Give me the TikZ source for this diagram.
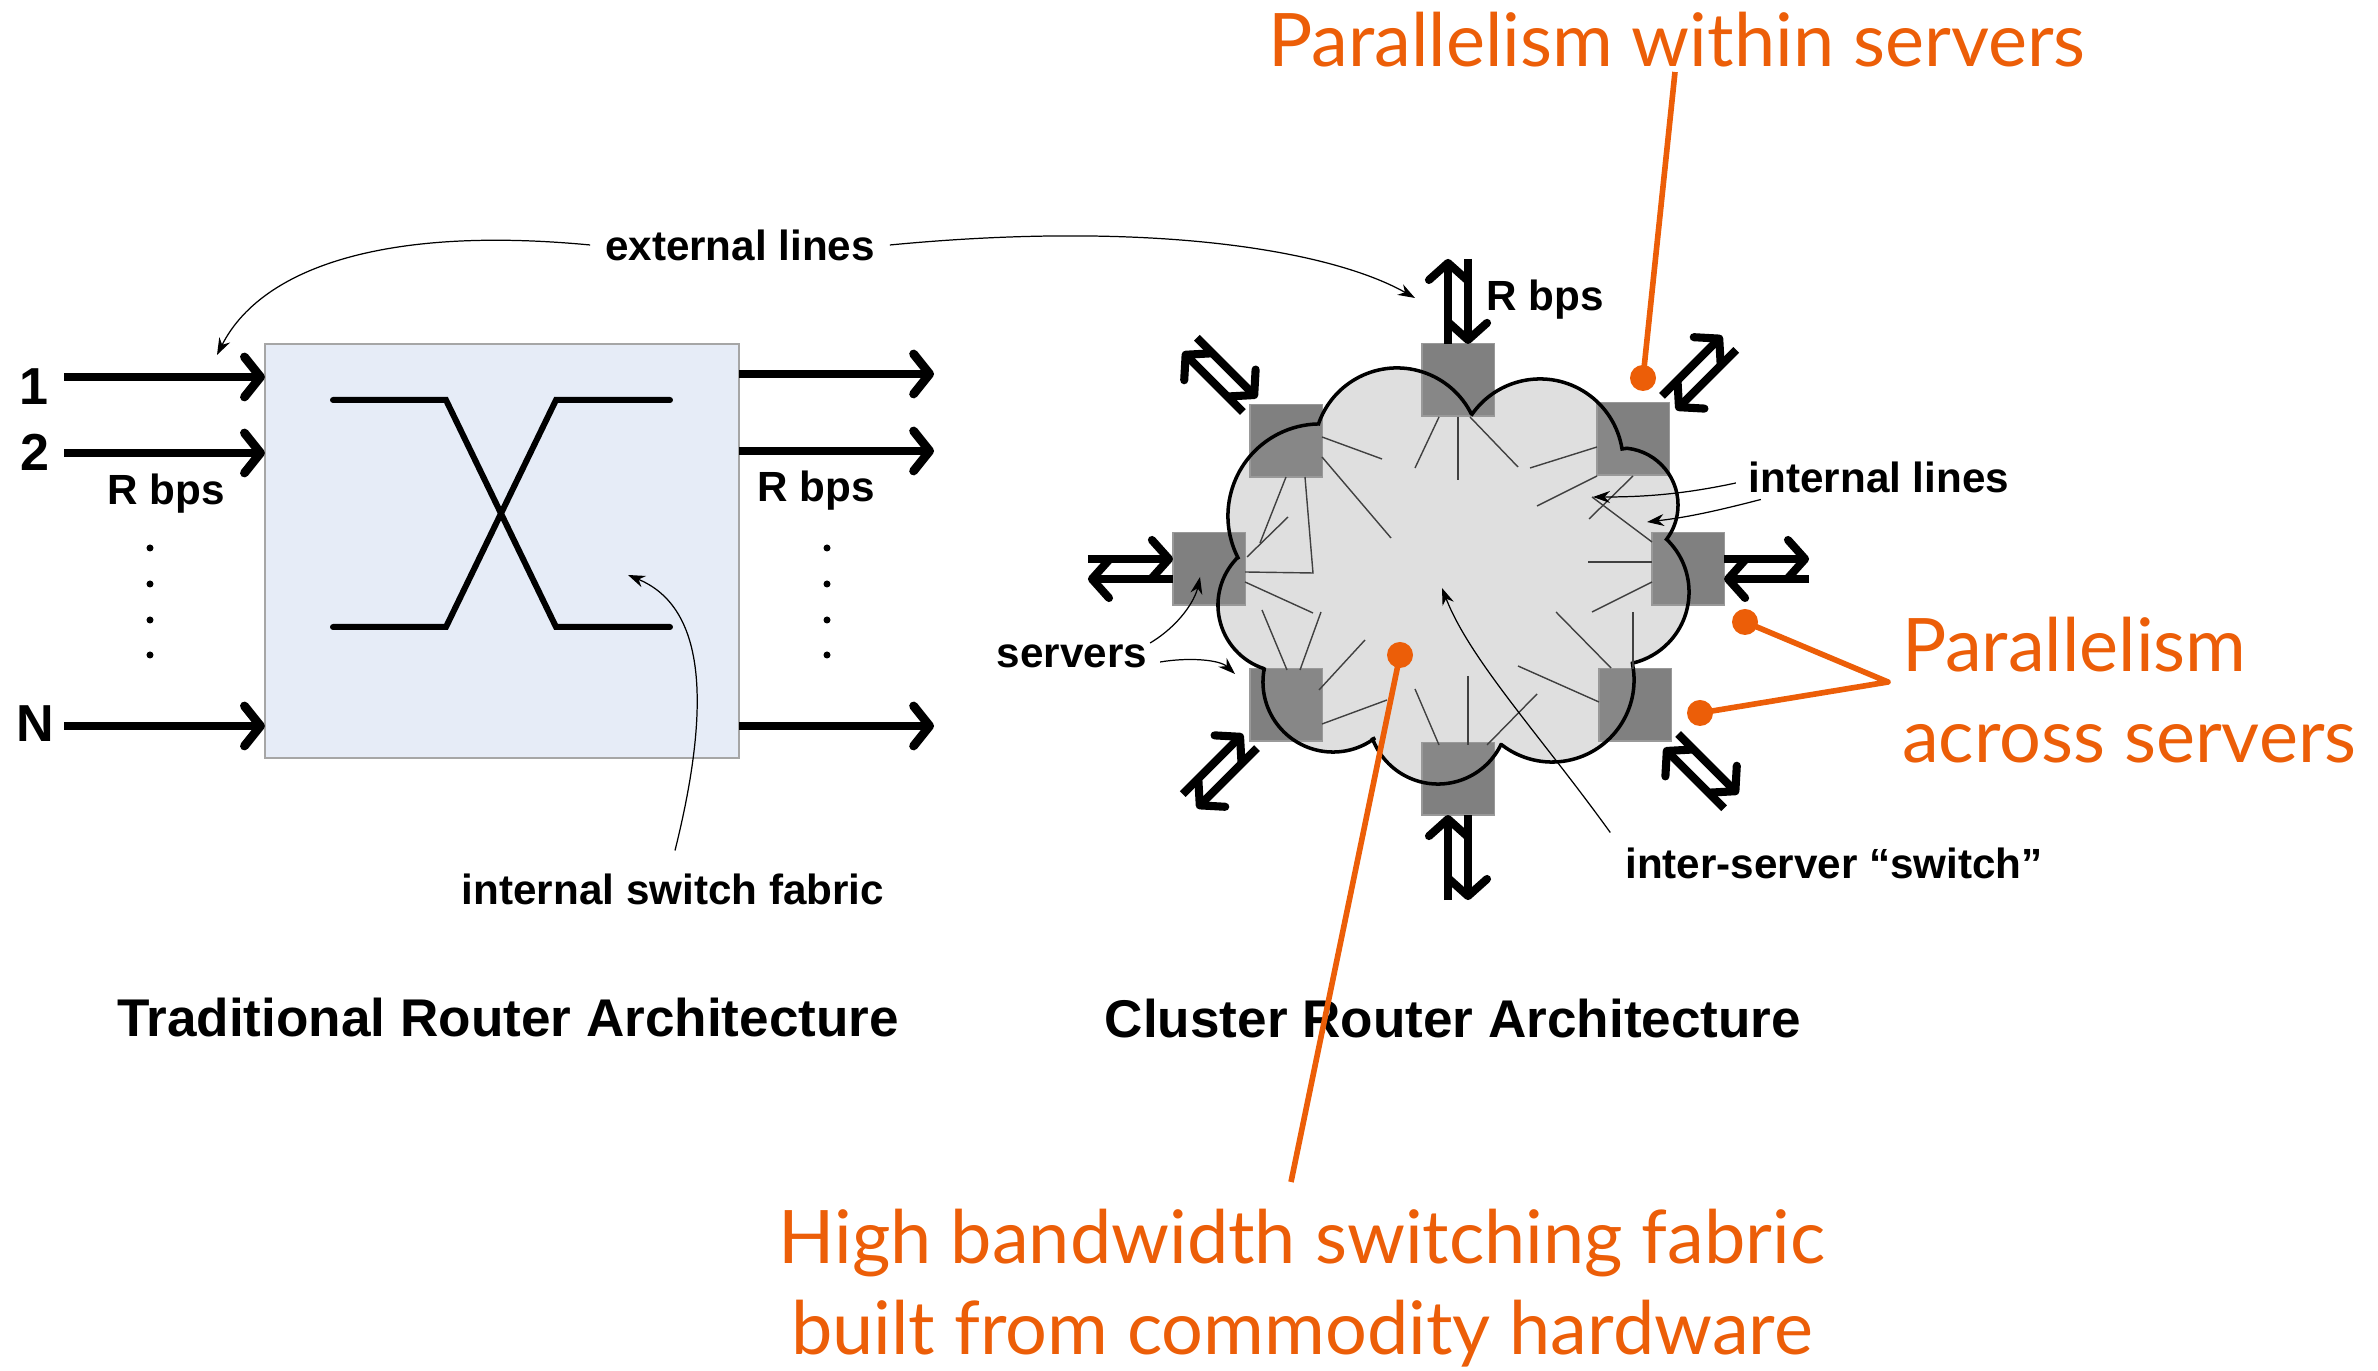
\documentclass[tikz,border=0pt]{standalone}
\usepackage{fontspec}
\setmainfont{Liberation Sans}
\newfontfamily\notefont{Lato}
\usetikzlibrary{arrows.meta}
\usetikzlibrary{calc}

\begin{document}
\begin{tikzpicture}[x=0.01cm, y=-0.01cm,
    %Option for nice arrows
    >={Stealth[length=1.7mm, width=1.2mm]},
    inner sep=0pt, outer sep=0pt,
    lbl/.style={font=\fontsize{12}{14}\selectfont\bfseries, inner sep=1.5mm},
    portnum/.style={font=\fontsize{14.8}{17}\selectfont\bfseries},
    heading/.style={font=\fontsize{15.1}{18}\selectfont\bfseries},
    note/.style={font=\notefont\fontsize{21}{26}\selectfont, text=hlorange, align=left},
    lineref/.style={line width=0.35pt, ->},
    link/.style={line width=2.5pt, -{Straight Barb[round, length=1.6mm, width=4mm]}},
    duplex/.style={line width=2.3pt, -{Straight Barb[round, length=1.7mm, width=3.8mm]}},
    server/.style={draw=black!40, line width=0.3pt, fill=black!50, minimum size=0.72cm},
    cluster/.style={draw=black, line width=1pt, fill=black!40, fill opacity=0.31},
    wire/.style={black!75, line width=0.4pt},
    pointer/.style={hlorange, line width=1.6pt},
]
    % Colors
    \definecolor{boxblue}{RGB}{230,236,247}
    \definecolor{hlorange}{RGB}{236,94,8}

    \useasboundingbox (0,0) rectangle (2378,1371);

    % Traditional router
    \node[draw=black!35, line width=0.4pt, fill=boxblue, minimum width=4.74cm, minimum height=4.14cm] (fabric) at (502,551) {};
    \draw[line width=1.7pt, line cap=round] (333,400) -- (446,400) -- (556,627) -- (670,627);
    \draw[line width=1.7pt, line cap=round] (333,627) -- (446,627) -- (556,400) -- (670,400);

    \node[portnum] (p1) at (34,387) {1};
    \node[portnum] (p2) at (35,452) {2};
    \node[portnum] (pN) at (35,724) {N};
    \foreach \port/\y in {1/377, 2/453, N/726} {
        \coordinate (in\port) at (64,\y);
        \draw[link] (in\port) -- (in\port -| fabric.west);
    }
    \foreach \port/\y in {1/374, 2/451, N/726} {
        \coordinate (out\port) at (934,\y);
        \draw[link] (fabric.east |- out\port) -- (out\port);
    }
    \foreach \y in {548,584,620,655} {
        \fill (150,\y) circle[radius=0.035cm];
        \fill (827,\y) circle[radius=0.035cm];
    }
    \node[lbl] (ratein) at (166,494) {R bps};
    \node[lbl] (rateout) at (816,491) {R bps};

    % Cluster router
    \foreach \name/\cx/\cy in {s1/1458/380, s2/1633/439, s3/1688/569, s4/1635/705,
                               s5/1458/779, s6/1286/705, s7/1209/569, s8/1286/441}
        \node[server] (\name) at (\cx,\cy) {};

    \filldraw[cluster] (1236,559)
        \foreach \cx/\cy/\r/\a/\b in {1320/516/0.92cm/207/91, 1397/451/0.83cm/162/26,
                                      1540/462/0.83cm/146/9, 1621/505/0.57cm/84/-37,
                                      1616/592/0.73cm/46/-77, 1552/680/0.82cm/11/-128,
                                      1438/714/0.70cm/-26/-159, 1333/682/0.70cm/-53/-192,
                                      1285/605/0.67cm/-108/-223}
        { -- ([shift={(\a:\r)}]\cx,\cy) arc[start angle=\a, end angle=\b, radius=\r] }
        -- cycle;

    % internal lines
    \foreach \xa/\ya/\xb/\yb in {1439/417/1415/468, 1458/417/1458/480, 1470/417/1518/467,
                                 1597/447/1530/468, 1597/476/1537/506, 1633/476/1589/519,
                                 1652/542/1592/497, 1652/562/1588/562, 1652/582/1592/612,
                                 1633/612/1633/669, 1556/612/1611/668, 1518/666/1599/702,
                                 1415/689/1439/745, 1468/676/1468/745, 1537/694/1487/745,
                                 1387/700/1322/724, 1365/640/1319/690, 1321/612/1300/670,
                                 1262/610/1287/670, 1245/582/1313/613, 1247/557/1288/517,
                                 1286/477/1260/543, 1322/437/1382/459, 1322/457/1391/538}
        \draw[wire] (\xa,\ya) -- (\xb,\yb);
    \draw[wire] (1245,572) -- (1313,573) -- (1305,477);

    % external lines of each server
    \foreach \name/\ang in {s1/90, s2/45, s3/0, s4/315, s5/270, s6/225, s7/180, s8/135} {
        \draw[duplex] ($(\name.\ang)+(\ang+90:0.1cm)$) -- ++(\ang:0.85cm);
        \draw[duplex] ($(\name.\ang)+(\ang-90:0.1cm)$) ++(\ang:0.85cm) -- ++(\ang+180:0.85cm);
    }
    \node[lbl] (ratesrv) at (1545,300) {R bps};

    % Labels
    \node[lbl] (ext) at (740,245) {external lines};
    \draw[lineref] (ext.west) .. controls (380,225) and (260,270) .. (217,355);
    \draw[lineref] (ext.east) .. controls (1150,220) and (1330,250) .. (1415,298);

    \node[lbl] (fabtext) at (673,889) {internal switch fabric};
    \draw[lineref] ($(fabtext.north)+(2,-8)$) .. controls (715,690) and (700,605) .. (628,575);

    \node[lbl] (intlines) at (1879,477) {internal lines};
    \draw[lineref] ($(intlines.west)+(2,6)$) .. controls (1680,495) and (1640,497) .. (1593,497);
    \draw[lineref] ($(intlines.south west)+(27,-8)$) .. controls (1720,510) and (1690,517) .. (1647,522);

    \node[lbl] (srvtext) at (1072,656) {servers};
    \draw[lineref] ($(srvtext.east)+(-12,-13)$) .. controls (1180,625) and (1195,600) .. (1200,577);
    \draw[lineref] ($(srvtext.east)+(-2,6)$) .. controls (1190,657) and (1220,660) .. (1235,674);

    \node[lbl] (switch) at (1834,863) {inter-server “switch”};
    \draw[lineref] (switch.north west) .. controls (1540,735) and (1470,660) .. (1442,588);

    \node[heading] (trad) at (508,1018) {Traditional Router Architecture};
    \node[heading] (clus) at (1453,1019) {Cluster Router Architecture};

    % Highlights
    \node[note] (within) at (1677,40) {Parallelism within servers};
    \coordinate (withintail) at (1675,72);
    \coordinate (dotwithin) at (1643,378);
    \draw[pointer] (withintail) -- (dotwithin);
    \fill[hlorange] (dotwithin) circle[radius=0.13cm];

    \node[note, anchor=west] (across) at (1902,690) {Parallelism\\across servers};
    \coordinate (acrossjoin) at (1888,682);
    \coordinate (dotacross1) at (1745,622);
    \coordinate (dotacross2) at (1700,713);
    \draw[pointer, line join=round] (dotacross1) -- (acrossjoin) -- (dotacross2);
    \fill[hlorange] (dotacross1) circle[radius=0.13cm];
    \fill[hlorange] (dotacross2) circle[radius=0.13cm];

    \node[note, align=center] (hbw) at (1302,1288) {High bandwidth switching fabric\\built from commodity hardware};
    \coordinate (hbwtail) at (1291,1182);
    \coordinate (dothbw) at (1400,655);
    \draw[pointer] (hbwtail) -- (dothbw);
    \fill[hlorange] (dothbw) circle[radius=0.13cm];
\end{tikzpicture}
\end{document}
